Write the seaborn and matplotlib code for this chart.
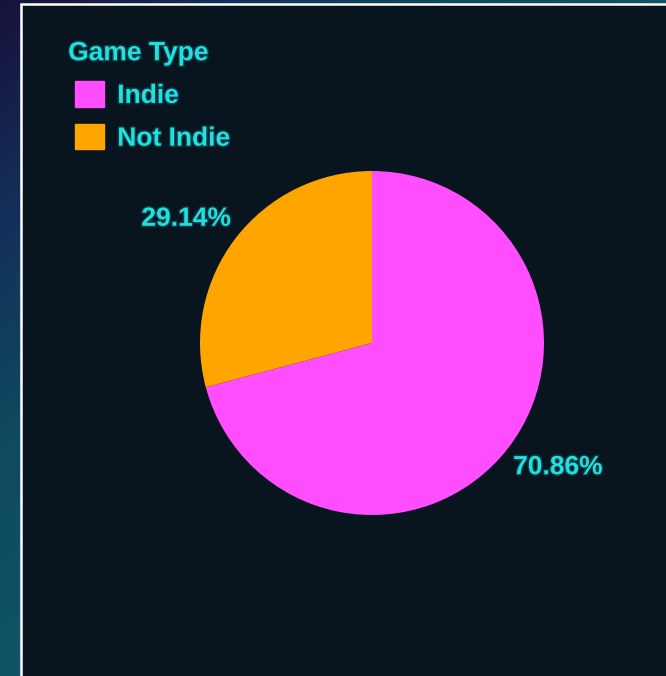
import numpy as np
import matplotlib
matplotlib.use("Agg")
import matplotlib.pyplot as plt
import matplotlib.patheffects as pe
from matplotlib.patches import Rectangle, Patch
from matplotlib.colors import LinearSegmentedColormap
from matplotlib.legend_handler import HandlerPatch
import seaborn as sns

# ---- data ----
categories = ["Indie", "Not Indie"]
shares = [70.86, 29.14]
colors = ["#ff4dff", "#ffa500"]
legend_title = "Game Type"

sns.set_theme(style="white")
plt.rcParams["font.family"] = ["Liberation Sans", "DejaVu Sans"]

W, H = 666, 676
fig = plt.figure(figsize=(W / 100, H / 100), dpi=100)

# outer gradient background
bg = fig.add_axes([0, 0, 1, 1], zorder=-10)
yy, xx = np.mgrid[0:1:200j, 0:1:200j]
t = np.clip((xx + yy) / 1.0, 0, 1)
cmap = LinearSegmentedColormap.from_list("g", ["#17123c", "#13305a", "#0f4a5e", "#0f5466"])
bg.imshow(t, cmap=cmap, aspect="auto", extent=[0, 1, 0, 1], origin="upper")
bg.set_axis_off()

# dark panel with white border
panel = Rectangle((20.5 / W, -0.1), 1.0, 1.1 - 3.5 / H, transform=fig.transFigure,
                  facecolor="#08151f", edgecolor="white", linewidth=1.8, zorder=-5)
fig.patches.append(panel)

cx, cy, r = 372, 343, 172
half = r * 1.25
ax = fig.add_axes([(cx - half) / W, (H - cy - half) / H, 2 * half / W, 2 * half / H])
ax.set_facecolor("none")

txt_color = "#20e0e0"
stroke = [pe.withStroke(linewidth=2, foreground="#0b3b44")]
fs = 19

wedges, _, autotexts = ax.pie(
    shares, colors=colors, startangle=90, counterclock=False,
    autopct="%.2f%%", pctdistance=1.3,
    textprops=dict(color=txt_color, fontsize=fs, fontweight="bold"),
    wedgeprops=dict(linewidth=0),
)
# labels sit slightly rotated (counter-clockwise) from wedge midpoints in the reference
for w, a in zip(wedges, autotexts):
    mid = np.deg2rad((w.theta1 + w.theta2) / 2 + 3.8)
    a.set_position((1.3 * np.cos(mid), 1.3 * np.sin(mid)))
    a.set_path_effects(stroke)


def square(legend, orig_handle, xdescent, ydescent, width, height, fontsize):
    return Rectangle((-xdescent + 5, -ydescent), width, height)


handles = [Patch(facecolor=c, edgecolor=c, label=l) for c, l in zip(colors, categories)]
leg = fig.legend(handles=handles, title=legend_title, loc="upper left",
                 bbox_to_anchor=(55 / W, 1 - 28 / H), frameon=False,
                 prop=dict(size=fs, weight="bold"), title_fontproperties=dict(size=fs, weight="bold"),
                 handlelength=1.1, handleheight=1.1, labelspacing=0.61, handletextpad=0.76,
                 borderpad=0, alignment="left",
                 handler_map={Patch: HandlerPatch(patch_func=square)})
leg.get_title().set_color(txt_color)
leg.get_title().set_path_effects(stroke)
for tx in leg.get_texts():
    tx.set_color(txt_color)
    tx.set_path_effects(stroke)

fig.savefig("out.png", dpi=100)
